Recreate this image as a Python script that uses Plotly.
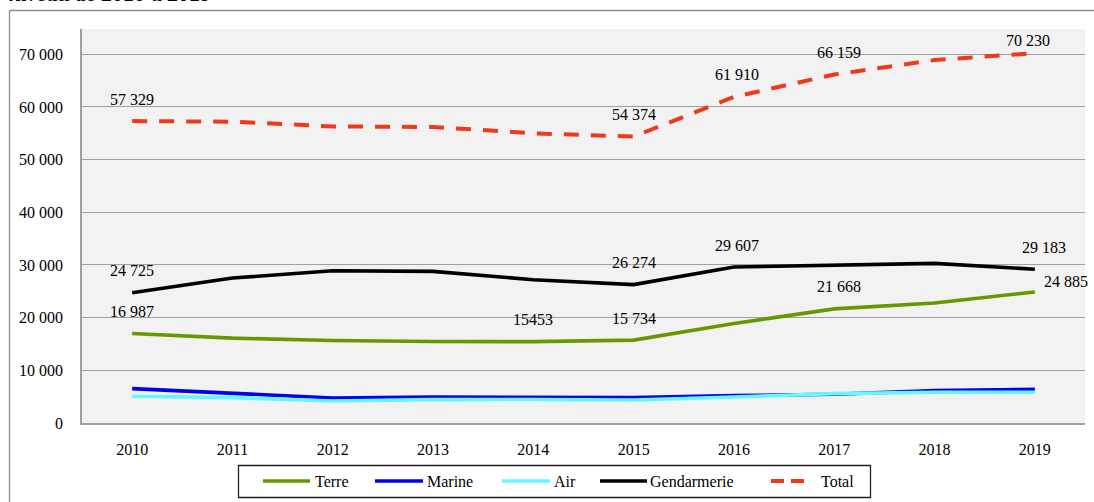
import plotly.graph_objects as go

# Effectifs par armée, 2010-2019
years = ["2010", "2011", "2012", "2013", "2014", "2015", "2016", "2017", "2018", "2019"]
terre = [16987, 16110, 15660, 15470, 15453, 15734, 18900, 21668, 22770, 24885]
marine = [6530, 5650, 4760, 4950, 4900, 4820, 5200, 5450, 6150, 6400]
air = [5070, 4820, 4180, 4430, 4470, 4380, 4950, 5580, 5830, 5830]
gendarmerie = [24725, 27520, 28900, 28780, 27200, 26274, 29607, 29920, 30300, 29183]
total = [57329, 57200, 56300, 56200, 55000, 54374, 61910, 66159, 68900, 70230]

y_ticks = [0, 10000, 20000, 30000, 40000, 50000, 60000, 70000]

# Years whose value is printed above each series
labelled = {
    "Total": [0, 5, 6, 7, 9],
    "Gendarmerie": [0, 5, 6, 9],
    "Terre": [0, 4, 5, 7, 9],
}
# Value written without thousands separator in the source table
no_sep = {("Terre", 4)}

W, H = 1094, 502
L, R, T, B = 82, 9, 29, 79
pw, ph = W - L - R, H - T - B

FONT = "Liberation Serif"


def px_x(p):
    """pixel column -> paper x"""
    return (p - L) / pw


def px_y(p):
    """pixel row -> paper y"""
    return (H - B - p) / ph


series = [
    ("Terre", terre, "#669900", None),
    ("Marine", marine, "#0000f0", None),
    ("Air", air, "#66f6ff", None),
    ("Gendarmerie", gendarmerie, "#000000", None),
    ("Total", total, "#f0381a", "15px,12px"),
]

fig = go.Figure()
for name, vals, color, dash in series:
    fig.add_trace(go.Scatter(
        x=list(range(len(years))), y=vals, name=name, mode="lines",
        line=dict(color=color, width=4 if dash else 3.6, dash=dash or "solid"),
        hoverinfo="skip", showlegend=False,
    ))


def fmt(v, sep=True):
    s = f"{v:,}"
    return s.replace(",", " ") if sep else s.replace(",", "")


# label offsets (px) for crowded points at the right-hand end
shift = {
    ("Total", 9): (-7, 13),
    ("Total", 6): (3, 22), ("Total", 7): (5, 22),
    ("Gendarmerie", 9): (9, 22), ("Gendarmerie", 6): (3, 22),
    ("Terre", 9): (31, 10), ("Terre", 7): (5, 22),
}
data = {name: vals for name, vals, _, _ in series}
for name, idxs in labelled.items():
    for i in idxs:
        dx, dy = shift.get((name, i), (0, 22))
        fig.add_annotation(
            x=i, y=data[name][i], xref="x", yref="y",
            text=fmt(data[name][i], (name, i) not in no_sep),
            showarrow=False, xshift=dx, yshift=dy,
            font=dict(family=FONT, size=16, color="#000"),
        )

# truncated heading above the chart frame
fig.add_annotation(
    x=px_x(7), y=px_y(8), xref="paper", yref="paper",
    xanchor="left", yanchor="bottom", showarrow=False,
    text="<b><i>niveau de 2010 à 2019</i></b>",
    font=dict(family=FONT, size=22, color="#000"),
)

# outer frame (top and left edges; the rest runs off the page)
fig.add_shape(type="line", xref="paper", yref="paper",
              x0=px_x(9.5), x1=px_x(W + 2), y0=px_y(10.5), y1=px_y(10.5),
              line=dict(color="#8c8c8c", width=1.3))
fig.add_shape(type="line", xref="paper", yref="paper",
              x0=px_x(9.5), x1=px_x(9.5), y0=px_y(10.5), y1=px_y(H + 2),
              line=dict(color="#8c8c8c", width=1.3))

# legend box drawn by hand: swatch start/end and text start (px)
legend_items = [
    ("Terre", 263, 310, 313),
    ("Marine", 375, 423, 425),
    ("Air", 502, 550, 552),
    ("Gendarmerie", 600, 647, 648),
    ("Total", 771, 804, 819),
]
fig.add_shape(type="rect", xref="paper", yref="paper",
              x0=px_x(238.5), x1=px_x(870.5), y0=px_y(497.5), y1=px_y(465.5),
              line=dict(color="#202020", width=1.3), fillcolor="#ffffff")
styles = {name: (color, dash) for name, _, color, dash in series}
ly = 481
for name, s0, s1, tx in legend_items:
    color, dash = styles[name]
    fig.add_shape(type="line", xref="paper", yref="paper",
                  x0=px_x(s0), x1=px_x(s1), y0=px_y(ly), y1=px_y(ly),
                  line=dict(color=color, width=4 if dash else 3.6,
                            dash="13px,7px" if dash else "solid"))
    fig.add_annotation(x=px_x(tx), y=px_y(ly), xref="paper", yref="paper",
                       xanchor="left", yanchor="middle", showarrow=False,
                       text=name, font=dict(family=FONT, size=16, color="#000"))

fig.update_layout(
    width=W, height=H,
    margin=dict(l=L, r=R, t=T, b=B, pad=0),
    paper_bgcolor="#ffffff",
    plot_bgcolor="#f2f2f2",
    font=dict(family=FONT, size=16, color="#000"),
    showlegend=False,
    xaxis=dict(
        range=[-0.5, 9.5],
        tickvals=list(range(len(years))), ticktext=years,
        showgrid=False, showline=True, linecolor="#a0a0a0", linewidth=1.5,
        ticks="", ticklabelstandoff=11,
        tickfont=dict(family=FONT, size=16),
        zeroline=False,
    ),
    yaxis=dict(
        range=[0, 74800], tickvals=y_ticks,
        ticktext=[fmt(v) for v in y_ticks],
        showgrid=True, gridcolor="#a0a0a0", gridwidth=1.3,
        showline=True, linecolor="#a0a0a0", linewidth=1.5,
        ticks="", ticklabelstandoff=14,
        tickfont=dict(family=FONT, size=16),
        zeroline=False,
    ),
)

fig.write_html("out.html")
